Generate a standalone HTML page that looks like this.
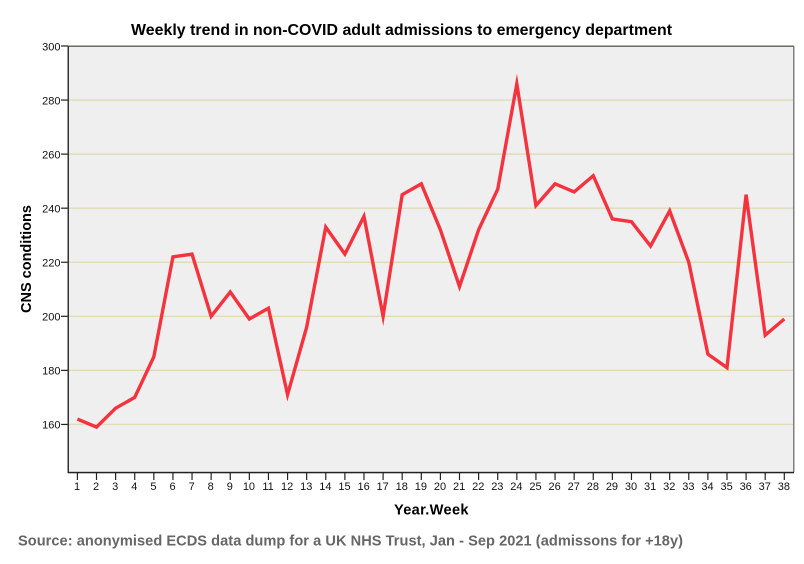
<!DOCTYPE html>
<html lang="en">
<head>
<meta charset="utf-8">
<title>Weekly trend in non-COVID adult admissions to emergency department</title>
<style>
html,body{margin:0;padding:0;background:#fff;width:804px;height:564px;overflow:hidden}
svg{display:block;font-family:"Liberation Sans",sans-serif}
</style>
</head>
<body>
<svg id="chart" width="804" height="564" viewBox="0 0 804 564">
  <rect x="68" y="46" width="726" height="426" fill="#efefef"/>
  <g id="grid"></g>
  <rect x="793" y="46" width="1.5" height="426" fill="#808080"/>
  <rect x="68" y="45.5" width="726" height="1.5" fill="#6b6b60"/>
  <g id="ticks"></g>
  <rect x="67.5" y="46" width="1.5" height="427" fill="#333"/>
  <rect x="68" y="471.8" width="726" height="1.5" fill="#222"/>
  <polyline id="line" fill="none" stroke="#f5333f" stroke-width="3.4" stroke-linejoin="miter" stroke-miterlimit="6"/>
  <text x="131" y="35" font-size="15.9" font-weight="700" textLength="541" fill="#000">Weekly trend in non-COVID adult admissions to emergency department</text>
  <text transform="translate(31,313) rotate(-90)" font-size="14.5" font-weight="700" textLength="108" fill="#000">CNS conditions</text>
  <text x="394" y="514.5" font-size="14.6" font-weight="700" textLength="74.5" fill="#000">Year.Week</text>
  <text x="18" y="545.5" font-size="14.6" font-weight="700" textLength="665" fill="#666">Source: anonymised ECDS data dump for a UK NHS Trust, Jan - Sep 2021 (admissons for +18y)</text>
</svg>
<script>
const weeks = [1,2,3,4,5,6,7,8,9,10,11,12,13,14,15,16,17,18,19,20,21,22,23,24,25,26,27,28,29,30,31,32,33,34,35,36,37,38];
const cnsConditions = [162,159,166,170,185,222,223,200,209,199,203,171,196,233,223,237,200,245,249,232,211,232,247,286,241,249,246,252,236,235,226,239,220,186,181,245,193,199];
const yTickLabels = [160,180,200,220,240,260,280,300];

const SVG_NS = 'http://www.w3.org/2000/svg';
const xScale = w => 77.4 + (w - weeks[0]) * (784.3 - 77.4) / (weeks[weeks.length - 1] - weeks[0]);
const yScale = v => 46 + (300 - v) * 2.703;

function make(tag, attrs, parent) {
  const el = document.createElementNS(SVG_NS, tag);
  for (const k in attrs) el.setAttribute(k, attrs[k]);
  parent.appendChild(el);
  return el;
}

const grid = document.getElementById('grid');
const ticks = document.getElementById('ticks');

yTickLabels.forEach(v => {
  const y = yScale(v);
  if (v < 300) {
    const g = make('line', {x1: 69, x2: 793, y1: y, y2: y, stroke: '#e0dcb8', 'stroke-width': 1.4}, grid);
    
    
  }
  const t = make('line', {x1: 61, x2: 68, y1: y, y2: y, stroke: '#222', 'stroke-width': 1.2}, ticks);
  
  
  const l = make('text', {x: 60.5, y: y + 4.3, 'text-anchor': 'end', 'font-size': 11, fill: '#111'}, ticks);
  
  
  l.textContent = v;
});

weeks.forEach(w => {
  const x = xScale(w);
  const t = make('line', {x1: x, x2: x, y1: 473, y2: 480, stroke: '#222', 'stroke-width': 1.2}, ticks);
  
  
  const l = make('text', {x: x - 0.4, y: 490, 'text-anchor': 'middle', 'font-size': 11, fill: '#111'}, ticks);
  
  
  l.textContent = w;
});

document.getElementById('line').setAttribute('points',
  weeks.map((w, i) => xScale(w).toFixed(2) + ',' + yScale(cnsConditions[i]).toFixed(2)).join(' '));
</script>
</body>
</html>
